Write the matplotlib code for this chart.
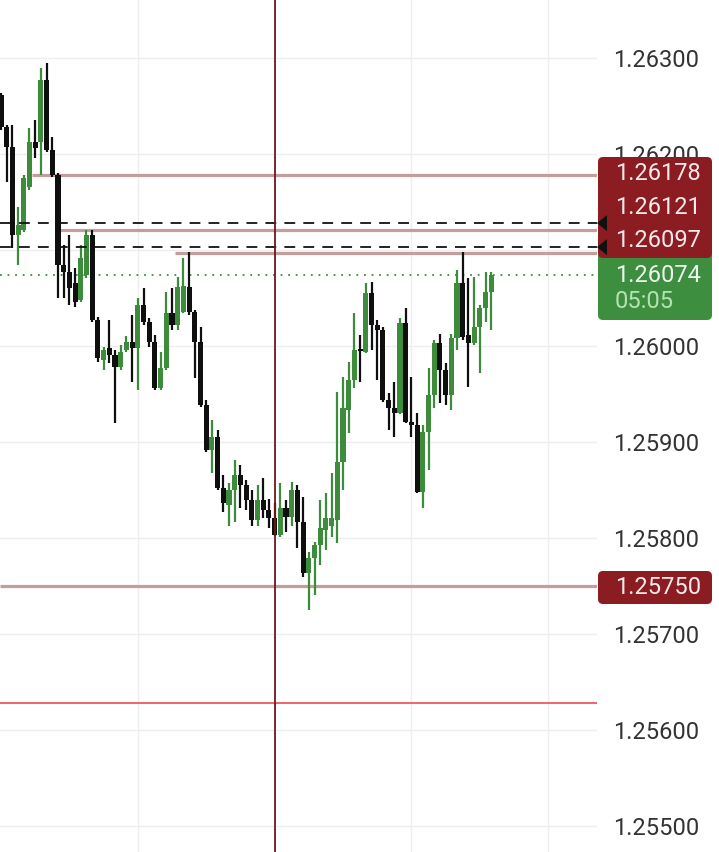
import matplotlib
matplotlib.use('Agg')
import matplotlib.pyplot as plt
from matplotlib.patches import FancyBboxPatch, Polygon
import numpy as np

# candle data (EURUSD-style quotes), oldest -> newest
opens = [1.26261, 1.26228, 1.26207, 1.26116, 1.26121, 1.26166, 1.26213, 1.26212, 1.26277, 1.26204,
         1.26178, 1.26084, 1.26077, 1.26066, 1.26048, 1.26074, 1.26116, 1.26027, 1.25985, 1.25998,
         1.25991, 1.25978, 1.25996, 1.26004, 1.25998, 1.26043, 1.26025, 1.26004, 1.25956, 1.25977,
         1.26034, 1.26022, 1.26035, 1.26061, 1.26035, 1.26004, 1.25939, 1.25892, 1.25905, 1.25852,
         1.25834, 1.25850, 1.25866, 1.25855, 1.25840, 1.25819, 1.25840, 1.25829, 1.25821, 1.25803,
         1.25831, 1.25822, 1.25850, 1.25817, 1.25764, 1.25779, 1.25793, 1.25808, 1.25812, 1.25819,
         1.25879, 1.25933, 1.25965, 1.25997, 1.25994, 1.26055, 1.26022, 1.26017, 1.25944, 1.25935,
         1.25930, 1.26024, 1.25921, 1.25918, 1.25848, 1.25910, 1.25949, 1.26003, 1.25975, 1.25949,
         1.26008, 1.26066, 1.26011, 1.26003, 1.26020, 1.26040, 1.26056]
highs = [1.26264, 1.26230, 1.26230, 1.26145, 1.26178, 1.26227, 1.26235, 1.26290, 1.26295, 1.26218,
         1.26180, 1.26105, 1.26116, 1.26081, 1.26105, 1.26121, 1.26121, 1.26030, 1.25999, 1.26027,
         1.25996, 1.26001, 1.26010, 1.26032, 1.26050, 1.26060, 1.26029, 1.26011, 1.25994, 1.26056,
         1.26060, 1.26072, 1.26092, 1.26098, 1.26038, 1.26020, 1.25944, 1.25923, 1.25912, 1.25866,
         1.25857, 1.25881, 1.25876, 1.25860, 1.25850, 1.25855, 1.25863, 1.25841, 1.25836, 1.25857,
         1.25840, 1.25858, 1.25855, 1.25843, 1.25785, 1.25796, 1.25840, 1.25847, 1.25868, 1.25952,
         1.25968, 1.25983, 1.26034, 1.26011, 1.26066, 1.26067, 1.26027, 1.26020, 1.25951, 1.25963,
         1.26029, 1.26040, 1.25968, 1.25930, 1.25918, 1.25977, 1.26006, 1.26013, 1.25982, 1.26013,
         1.26079, 1.26098, 1.26071, 1.26072, 1.26043, 1.26077, 1.26077]
lows = [1.26225, 1.26171, 1.26102, 1.26084, 1.26119, 1.26163, 1.26196, 1.26178, 1.26202, 1.26176,
        1.26050, 1.26050, 1.26043, 1.26041, 1.26046, 1.26071, 1.26025, 1.25983, 1.25975, 1.25982,
        1.25920, 1.25975, 1.25994, 1.25963, 1.25954, 1.26022, 1.25999, 1.25954, 1.25954, 1.25975,
        1.26017, 1.26017, 1.26034, 1.26032, 1.25967, 1.25936, 1.25890, 1.25868, 1.25850, 1.25827,
        1.25813, 1.25817, 1.25831, 1.25829, 1.25812, 1.25813, 1.25821, 1.25810, 1.25802, 1.25801,
        1.25806, 1.25812, 1.25790, 1.25759, 1.25725, 1.25741, 1.25772, 1.25788, 1.25801, 1.25795,
        1.25850, 1.25909, 1.25956, 1.25962, 1.25993, 1.25996, 1.25965, 1.25942, 1.25912, 1.25905,
        1.25929, 1.25920, 1.25905, 1.25847, 1.25831, 1.25871, 1.25935, 1.25941, 1.25939, 1.25933,
        1.25996, 1.26006, 1.25957, 1.26001, 1.25972, 1.26025, 1.26017]
closes = [1.26228, 1.26207, 1.26116, 1.26126, 1.26175, 1.26213, 1.26206, 1.26277, 1.26204, 1.26178,
          1.26084, 1.26077, 1.26060, 1.26046, 1.26092, 1.26116, 1.26027, 1.25988, 1.25996, 1.25991,
          1.25978, 1.25994, 1.26004, 1.25998, 1.26043, 1.26025, 1.26004, 1.25956, 1.25977, 1.26034,
          1.26022, 1.26061, 1.26063, 1.26035, 1.26004, 1.25939, 1.25892, 1.25905, 1.25852, 1.25836,
          1.25850, 1.25866, 1.25855, 1.25840, 1.25819, 1.25840, 1.25829, 1.25821, 1.25803, 1.25831,
          1.25822, 1.25850, 1.25817, 1.25764, 1.25779, 1.25793, 1.25810, 1.25821, 1.25821, 1.25879,
          1.25935, 1.25965, 1.25996, 1.25995, 1.26055, 1.26022, 1.26017, 1.25944, 1.25935, 1.25930,
          1.26024, 1.25921, 1.25918, 1.25848, 1.25910, 1.25949, 1.26003, 1.25975, 1.25949, 1.26008,
          1.26066, 1.26009, 1.26003, 1.26020, 1.26040, 1.26056, 1.26074]

# horizontal levels
zone_levels = [1.26178, 1.26121, 1.26097, 1.25750]
zone_starts = [5.4, 10.0, 30.5, -1]          # candle index where each level line begins
order_levels = [1.26128, 1.26103]              # dashed lines
red_level = 1.25628
last_price = 1.26074
countdown = "05:05"
cursor_idx = 48

W, H = 719, 852
plt.rcParams['font.family'] = ['Roboto', 'DejaVu Sans']

fig = plt.figure(figsize=(W / 100, H / 100), dpi=100)
fig.patch.set_facecolor('white')
ax = fig.add_axes([0, 0, 597 / W, 1])
xmin, xmax = -0.175, 104.56
ax.set_xlim(xmin, xmax)
ax.set_ylim(1.254729, 1.263604)

o = np.array(opens); c = np.array(closes)
idx = np.arange(len(o))
green, black = '#3c8c3c', '#0f0f0f'
cols = [green if cc >= oo else black for oo, cc in zip(o, c)]

ax.vlines(idx, lows, highs, colors=cols, linewidth=1.6, zorder=3)
ax.bar(idx, np.maximum(np.abs(c - o), 0.000020), bottom=np.minimum(o, c),
       width=0.88, color=cols, zorder=4, linewidth=0)

# level lines
for lvl, st in zip(zone_levels, zone_starts):
    ax.hlines(lvl, max(st, xmin), xmax, color='#c59d9d', linewidth=2.3, zorder=2)
for lvl in order_levels:
    ax.axhline(lvl, color='#111111', linewidth=1.3, linestyle=(0, (6, 4.5)), zorder=5)
ax.axhline(red_level, color='#ee4a52', linewidth=1.2, zorder=2)
ax.axhline(last_price, color='#3e8e3e', linewidth=1.3, linestyle=(0, (1, 3.2)), zorder=2)
ax.axvline(cursor_idx, color='#6a1b1b', linewidth=1.3, zorder=6)

# grid / ticks
ax.set_yticks(np.arange(1.255, 1.26301, 0.001))
ax.set_yticklabels([f"{v:.5f}" for v in np.arange(1.255, 1.26301, 0.001)])
ax.set_xticks([24, 48, 72, 96])
ax.grid(color='#eeeeee', linewidth=1.0, zorder=0)
ax.set_axisbelow(True)
ax.yaxis.tick_right()
ax.tick_params(axis='y', length=0, pad=11.5, labelsize=17, labelcolor='#333333')
ax.tick_params(axis='x', length=0, labelbottom=False)
for s in ax.spines.values():
    s.set_visible(False)

# price tags on the right (pixel layout)
def inch(px, py):
    return px / 100, (H - py) / 100

def tag(py0, py1, color):
    x0, y0 = inch(598, py1)
    p = FancyBboxPatch((x0, y0), 1.14, (py1 - py0) / 100,
                       boxstyle='round,pad=0,rounding_size=0.05',
                       transform=fig.dpi_scale_trans, facecolor=color,
                       edgecolor='none', zorder=2)
    fig.patches.append(p)

def label(py, s, color):
    x, y = inch(615, py)
    fig.text(x / (W / 100), y / (H / 100), s, color=color, fontsize=17,
             ha='left', va='center', zorder=5)

red_tag = '#8a1c22'
tag(250, 320, '#3d8f3f')
tag(157, 258, red_tag)
tag(571, 604, red_tag)
for py, lvl in zip([174, 208, 241], zone_levels[:3]):
    label(py, f"{lvl:.5f}", '#f6eaea')
label(275, f"{last_price:.5f}", '#eef8ee')
label(302, countdown, '#b4e2b4')
label(587, f"{zone_levels[3]:.5f}", '#f6eaea')

# black arrow markers where the dashed lines meet the tags
fig.canvas.draw()
for lvl in order_levels:
    ypx = ax.transData.transform((0, lvl))[1]
    tri = Polygon([[597, ypx], [607, ypx + 8], [607, ypx - 8]], closed=True,
                  transform=None, facecolor='#111111', edgecolor='none', zorder=3)
    fig.patches.append(tri)

fig.savefig('out.png', dpi=100, facecolor='white')
